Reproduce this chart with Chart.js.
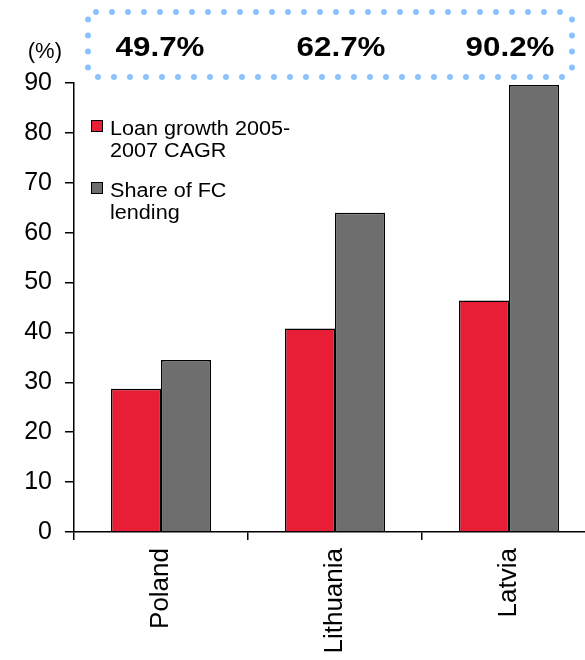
<!DOCTYPE html>
<html>
<head>
<meta charset="utf-8">
<script src="https://cdn.jsdelivr.net/npm/chart.js@4/dist/chart.umd.min.js"></script>
<style>
  html, body { margin: 0; padding: 0; overflow: hidden; background: #fff; width: 585px; height: 660px; }
  #wrap { position: absolute; left: 0; top: 0; width: 600px; height: 660px; }
</style>
</head>
<body>
<div id="wrap"><canvas id="chart" width="600" height="660"></canvas></div>
<script>
// Categories and series
const countries = ['Poland', 'Lithuania', 'Latvia'];
const loanGrowth = [28.7, 40.8, 46.4];   // Loan growth 2005-2007 CAGR (%)
const fcShare = [34.5, 64.0, 89.6];      // Share of FC lending (%)
const headlineValues = ['49.7%', '62.7%', '90.2%'];
const yMin = 0, yMax = 90, yStep = 10;
const seriesNames = [['Loan growth 2005-', '2007 CAGR'], ['Share of FC', 'lending']];

const FONT = '"Liberation Sans", Arial, sans-serif';
const RED = '#E81D36';
const GREY = '#6E6E6E';

// Text drawn slightly widened horizontally
function wideText(ctx, text, x, y, sx) {
  ctx.save();
  ctx.translate(x, y);
  ctx.scale(sx, 1);
  ctx.fillText(text, 0, 0);
  ctx.restore();
}

// Unit label, dotted headline box and legend drawn on top of the chart
const overlay = {
  id: 'overlay',
  afterDraw(chart) {
    const ctx = chart.ctx;
    const x = chart.scales.x;
    ctx.save();

    ctx.fillStyle = '#000';
    ctx.font = '22px ' + FONT;
    ctx.textAlign = 'right';
    ctx.textBaseline = 'alphabetic';
    ctx.fillText('(%)', 62, 58);

    // dotted rounded box
    const bx = 88, by = 12, bw = 484, bh = 65, r = 8;
    ctx.beginPath();
    ctx.moveTo(bx + r, by);
    ctx.lineTo(bx + bw - r, by);
    ctx.arcTo(bx + bw, by, bx + bw, by + r, r);
    ctx.lineTo(bx + bw, by + bh - r);
    ctx.arcTo(bx + bw, by + bh, bx + bw - r, by + bh, r);
    ctx.lineTo(bx + r, by + bh);
    ctx.arcTo(bx, by + bh, bx, by + bh - r, r);
    ctx.lineTo(bx, by + r);
    ctx.arcTo(bx, by, bx + r, by, r);
    ctx.closePath();
    ctx.strokeStyle = '#8CC2FD';
    ctx.lineWidth = 6;
    ctx.lineCap = 'round';
    ctx.setLineDash([0, 16]);
    ctx.stroke();
    ctx.setLineDash([]);

    // headline figures above each country
    const nudge = [-1, 6, 1];
    ctx.font = 'bold 28px ' + FONT;
    ctx.textAlign = 'center';
    headlineValues.forEach((t, i) => {
      wideText(ctx, t, x.getPixelForValue(i) + nudge[i], 56, 1.12);
    });

    // legend
    const legendTops = [120, 182];
    ctx.font = '20px ' + FONT;
    ctx.textAlign = 'left';
    chart.data.datasets.forEach((ds, i) => {
      const top = legendTops[i];
      ctx.fillStyle = ds.backgroundColor;
      ctx.fillRect(91, top, 12, 12);
      ctx.strokeStyle = '#000';
      ctx.lineWidth = 1;
      ctx.strokeRect(91.5, top + 0.5, 11, 11);
      ctx.fillStyle = '#000';
      seriesNames[i].forEach((line, j) => {
        wideText(ctx, line, 110, top + 15 + j * 22, 1.08);
      });
    });

    ctx.restore();
  }
};

new Chart(document.getElementById('chart'), {
  type: 'bar',
  data: {
    labels: countries,
    datasets: [
      { label: seriesNames[0].join(' '), data: loanGrowth, backgroundColor: RED, borderColor: '#000', borderWidth: 1.5 },
      { label: seriesNames[1].join(' '), data: fcShare, backgroundColor: GREY, borderColor: '#000', borderWidth: 1.5 }
    ]
  },
  options: {
    responsive: false,
    animation: false,
    devicePixelRatio: 1,
    layout: { padding: { left: 0, top: 83, right: 4, bottom: 0 } },
    datasets: { bar: { categoryPercentage: 0.575, barPercentage: 1 } },
    plugins: { legend: { display: false }, tooltip: { enabled: false } },
    scales: {
      x: {
        afterFit(s) { s.height = 128; },
        grid: { display: true, drawOnChartArea: false, drawTicks: true, tickLength: 8, color: '#000', lineWidth: 1.5, offset: true },
        border: { display: true, color: '#000', width: 1.5 },
        ticks: { minRotation: 90, maxRotation: 90, padding: 8, color: '#000', font: { family: FONT, size: 26 } }
      },
      y: {
        min: yMin, max: yMax,
        afterFit(s) { s.width = 74; },
        grid: { display: true, drawOnChartArea: false, drawTicks: true, tickLength: 9, color: '#000', lineWidth: 1.5 },
        border: { display: true, color: '#000', width: 1.5 },
        ticks: { stepSize: yStep, padding: 13, color: '#000', font: { family: FONT, size: 25 } }
      }
    }
  },
  plugins: [overlay]
});
</script>
</body>
</html>
